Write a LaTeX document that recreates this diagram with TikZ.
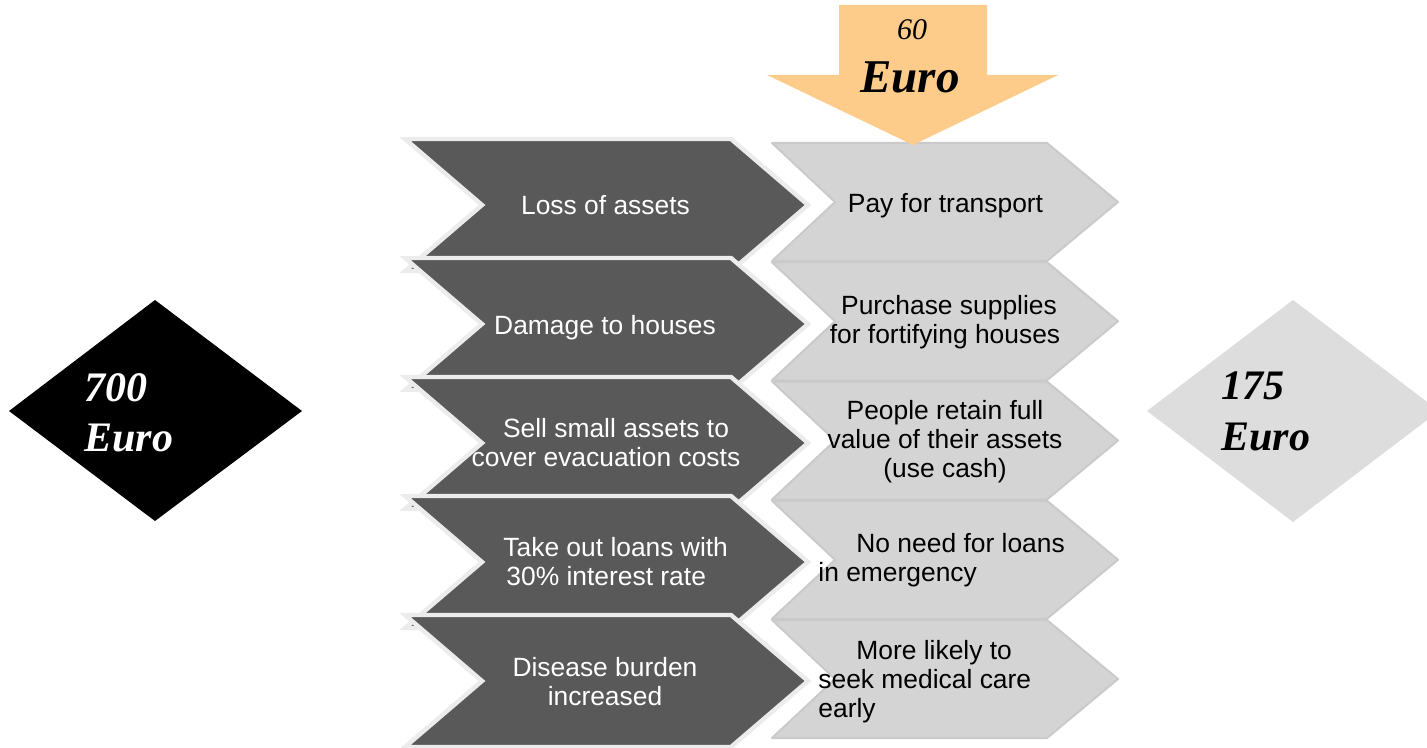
\documentclass[tikz,border=0pt]{standalone}
\usepackage{fontspec}
\setmainfont{Liberation Serif}
\setsansfont{Liberation Sans}
\definecolor{chevdark}{RGB}{89,89,89}
\definecolor{chevedge}{RGB}{236,236,236}
\definecolor{chevlight}{RGB}{212,212,212}
\definecolor{chevlightedge}{RGB}{202,202,202}
\definecolor{diamgrey}{RGB}{221,221,221}
\definecolor{arrowc}{RGB}{254,204,138}
\begin{document}
\begin{tikzpicture}[x=0.5pt,y=-0.5pt,
  darkchev/.style={fill=chevdark, draw=chevedge, line width=2.2pt, line join=miter},
  lightchev/.style={fill=chevlight, draw=chevlightedge, line width=1pt, line join=round},
  chevtxt/.style={font=\sffamily\fontsize{13.2}{14.5}\selectfont, inner sep=0pt},
  dtext/.style={chevtxt, text=white},
  ltext/.style={chevtxt, text=black},
  eurotxt/.style={font=\rmfamily\bfseries\itshape\fontsize{21}{25}\selectfont, inner sep=0pt, align=left}]
\useasboundingbox (0,0) rectangle (1427,748);

% dark chevrons (causes)
\foreach \c in {205,324,443,562,681}{
  \draw[darkchev] (405,\c-66) -- (731,\c-66) -- (808,\c) -- (731,\c+66) -- (405,\c+66) -- (482,\c) -- cycle;
}
% light chevrons (benefits)
\foreach \c in {202,321.25,440.5,559.75,679}{
  \draw[lightchev] (772,\c-59) -- (1047,\c-59) -- (1118,\c) -- (1047,\c+59) -- (772,\c+59) -- (835,\c) -- cycle;
}

% top arrow
\fill[arrowc] (839,5) -- (987,5) -- (987,75) -- (1058,75) -- (913,145) -- (767,75) -- (839,75) -- cycle;
\node[font=\rmfamily\itshape\fontsize{15}{18}\selectfont, inner sep=0pt, anchor=base] (sixty) at (912,40) {60};
\node[font=\rmfamily\bfseries\itshape\fontsize{23.5}{28}\selectfont, inner sep=0pt, anchor=base] (topeuro) at (910,93) {Euro};

% diamonds
\fill[black] (155,300) -- (302,411) -- (155,521) -- (9,411) -- cycle;
\node[eurotxt, text=white, anchor=west] (leftval) at (84,412.8) {700\\Euro};
\fill[diamgrey] (1293,300) -- (1439,411) -- (1293,522) -- (1147,411) -- cycle;
\node[eurotxt, text=black, anchor=west, font=\rmfamily\bfseries\itshape\fontsize{21}{25.5}\selectfont] (rightval) at (1221,411.8) {175\\Euro};

% dark texts
\node[dtext] (c1) at (605.5,205.4) {Loss of assets};
\node[dtext] (c2) at (605,327.6) {Damage to houses};
\node[dtext, align=center] (c3) at (606,442.8) {\hspace*{10pt}Sell small assets to\\cover evacuation costs};
\node[dtext, align=left, anchor=west] (c4) at (503,561.4) {Take out loans with\\\hspace*{1.5pt}30\% interest rate};
\node[dtext, align=center] (c5) at (605,681.3) {Disease burden\\increased};

% light texts
\node[ltext] (b1) at (945.5,205.6) {Pay for transport};
\node[ltext, align=center] (b2) at (945,322.6) {\hspace*{4pt}Purchase supplies\\for fortifying houses};
\node[ltext, align=center] (b3) at (945,442) {People retain full\\value of their assets\\(use cash)};
\node[ltext, align=left, anchor=west] (b4) at (818,560.6) {\hspace*{19pt}No need for loans\\in emergency};
\node[ltext, align=left, anchor=west] (b5) at (818,682) {\hspace*{19pt}More likely to\\seek medical care\\early};
\end{tikzpicture}
\end{document}
